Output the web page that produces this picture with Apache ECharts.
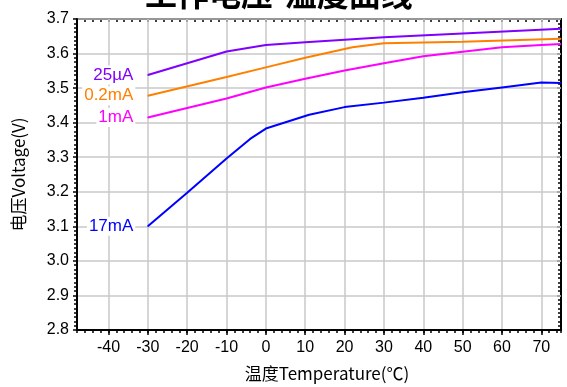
<!DOCTYPE html>
<html>
<head>
<meta charset="utf-8">
<script src="https://cdn.jsdelivr.net/npm/echarts@6/dist/echarts.min.js"></script>
<style>html,body{margin:0;padding:0;background:#fff;}#c{width:567px;height:387px;}</style>
</head>
<body>
<div id="c"></div>
<script>
// ---- data ----
const xTickLabels = [-40, -30, -20, -10, 0, 10, 20, 30, 40, 50, 60, 70];
const yTickLabels = [2.8, 2.9, 3.0, 3.1, 3.2, 3.3, 3.4, 3.5, 3.6, 3.7];

const names = ['25µA', '0.2mA', '1mA', '17mA'];

const t25uA = [-30, -10, 0, 10, 30, 50, 75];
const v25uA = [3.538, 3.606, 3.625, 3.633, 3.647, 3.658, 3.672];

const t02mA = [-30, -10, 0, 10, 22, 30, 50, 75];
const v02mA = [3.478, 3.532, 3.560, 3.588, 3.618, 3.630, 3.634, 3.643];

const t1mA = [-30, -10, 0, 10, 20, 30, 40, 60, 70, 75];
const v1mA = [3.415, 3.470, 3.502, 3.527, 3.551, 3.572, 3.592, 3.618, 3.625, 3.628];

const t17mA = [-30, -20, -10, -4, 0, 11, 20, 30, 40, 50, 60, 70, 75];
const v17mA = [3.100, 3.197, 3.296, 3.353, 3.383, 3.423, 3.445, 3.458, 3.472, 3.488, 3.502, 3.516, 3.515];

const colors = ['#8000ff', '#ff8000', '#ff00ff', '#0000ff'];

// ---- build ----
function makeData(ts, vs, name, color) {
  return ts.map((t, i) => {
    if (i === 0) {
      return {
        value: [t, vs[i]],
        label: {
          show: true, position: 'left', distance: 12, formatter: name,
          color: color, fontSize: 17, fontFamily: 'Liberation Sans, Arial, sans-serif',
          backgroundColor: '#fff', padding: [1, 2]
        }
      };
    }
    return [t, vs[i]];
  });
}

const seriesT = [t25uA, t02mA, t1mA, t17mA];
const seriesV = [v25uA, v02mA, v1mA, v17mA];

const series = names.map((n, k) => ({
  name: n, type: 'line', xAxisIndex: 0, yAxisIndex: 0,
  data: makeData(seriesT[k], seriesV[k], n, colors[k]),
  symbol: 'circle', symbolSize: 1, showSymbol: true,
  itemStyle: { color: colors[k] },
  lineStyle: { color: colors[k], width: 2 },
  label: { show: false },
  emphasis: { disabled: true },
  silent: true, z: 3
}));

const black = '#000';
const font = 'Liberation Sans, Arial, sans-serif';

const chart = echarts.init(document.getElementById('c'), null, { renderer: 'canvas' });
chart.setOption({
  animation: false,
  backgroundColor: '#fff',
  title: {
    text: '工作电压-温度曲线', left: 140, top: -27,
    textStyle: { fontSize: 32, fontWeight: 'bold', color: '#000', fontFamily: 'Noto Sans CJK SC' }
  },
  grid: { left: 77, right: 6, top: 19, bottom: 54, containLabel: false },
  xAxis: [
    {
      type: 'value', min: -48, max: 75, interval: 2, position: 'bottom',
      name: '温度Temperature(℃)', nameLocation: 'middle', nameGap: 35,
      nameTextStyle: { fontSize: 17, color: '#000', fontFamily: 'Noto Sans CJK SC', padding: [0, 0, 0, 16] },
      axisLine: { show: true, onZero: false, lineStyle: { color: black, width: 2 } },
      axisTick: { show: true, customValues: xTickLabels, length: 5, inside: false, lineStyle: { color: black, width: 1.5 } },
      axisLabel: { show: true, customValues: xTickLabels, fontSize: 16, color: '#000', margin: 10, fontFamily: font },
      splitLine: { show: true, lineStyle: { color: '#c8c8c8', width: 1.5 } },
      z: 2
    },
    {
      type: 'value', min: -48, max: 75, interval: 2, position: 'bottom',
      axisLine: { show: false, onZero: false },
      axisTick: { show: true, length: 3, inside: false, lineStyle: { color: black, width: 1.5 } },
      axisLabel: { show: false },
      splitLine: { show: false }
    },
    {
      type: 'value', min: -48, max: 75, interval: 2, position: 'top',
      axisLine: { show: true, onZero: false, lineStyle: { color: black, width: 2 } },
      axisTick: { show: true, length: 3, inside: true, lineStyle: { color: black, width: 1.5 } },
      axisLabel: { show: false },
      splitLine: { show: false }
    }
  ],
  yAxis: [
    {
      type: 'value', min: yTickLabels[0], max: yTickLabels[yTickLabels.length - 1], interval: 0.1, position: 'left',
      name: '电压Voltage(V)', nameLocation: 'middle', nameGap: 50, nameRotate: 90,
      nameTextStyle: { fontSize: 17, color: '#000', fontFamily: 'Noto Sans CJK SC', padding: [0, 0, 0, 0] },
      axisLine: { show: true, onZero: false, lineStyle: { color: black, width: 2 } },
      axisTick: { show: true, length: 4, inside: false, lineStyle: { color: black, width: 1.5 } },
      minorTick: { show: true, splitNumber: 8, length: 3, lineStyle: { color: black, width: 1.5 } },
      axisLabel: { fontSize: 16, color: '#000', margin: 8, fontFamily: font, formatter: v => v.toFixed(1) },
      splitLine: { show: true, lineStyle: { color: '#c8c8c8', width: 1.5 } },
      z: 2
    },
    {
      type: 'value', min: yTickLabels[0], max: yTickLabels[yTickLabels.length - 1], interval: 0.1, position: 'right',
      axisLine: { show: true, onZero: false, lineStyle: { color: black, width: 2 } },
      axisTick: { show: true, length: 4, inside: true, lineStyle: { color: black, width: 1.5 } },
      minorTick: { show: true, splitNumber: 8, length: 3, lineStyle: { color: black, width: 1.5 } },
      axisLabel: { show: false },
      splitLine: { show: false }
    }
  ],
  series: series
});
</script>
</body>
</html>
